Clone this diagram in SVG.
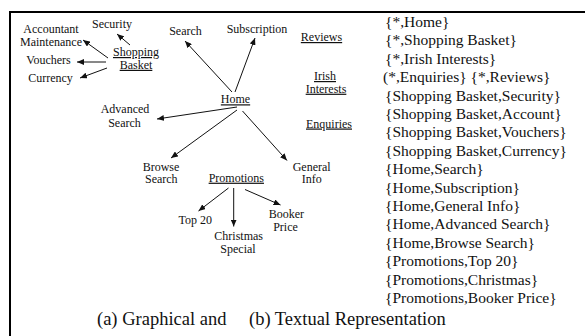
<svg xmlns="http://www.w3.org/2000/svg" width="585" height="336" viewBox="0 0 585 336">
<defs>
<style>
.n text{font-family:"Liberation Serif","Times New Roman",serif;font-size:12px;fill:#111;text-anchor:middle}
.n text.u{text-decoration:underline}
.lst text{font-family:"Liberation Serif","Times New Roman",serif;font-size:15.5px;fill:#111}
.cap{font-family:"Liberation Serif","Times New Roman",serif;font-size:18.5px;fill:#111}
#connectors line{stroke:#111;stroke-width:1;marker-end:url(#ah)}
.frame{stroke:#000;stroke-width:2;fill:none}
</style>
<marker id="ah" markerUnits="userSpaceOnUse" markerWidth="8" markerHeight="6" refX="7" refY="3" orient="auto">
<path d="M0,0 L7,3 L0,6 z" fill="#111"/>
</marker>
</defs>
<rect width="585" height="336" fill="#fff"/>
<path class="frame" d="M10,336 V12 H585"/>

<g id="connectors">
<line x1="130" y1="45" x2="117" y2="34"/>
<line x1="108" y1="58" x2="83" y2="40"/>
<line x1="106" y1="62" x2="77" y2="62"/>
<line x1="107" y1="68" x2="80" y2="78"/>
<line x1="232" y1="92" x2="185" y2="41"/>
<line x1="235" y1="92" x2="255" y2="38"/>
<line x1="237" y1="107" x2="157" y2="119"/>
<line x1="237" y1="110" x2="171" y2="158"/>
<line x1="242.5" y1="111" x2="287" y2="160.5"/>
<line x1="228.5" y1="188" x2="198.5" y2="211"/>
<line x1="233.7" y1="188" x2="233.7" y2="226.5"/>
<line x1="245" y1="189.5" x2="280.5" y2="205"/>
</g>

<g id="node-account" class="n"><text x="51" y="33">Accountant</text><text x="51" y="45.7">Maintenance</text></g>
<g id="node-security" class="n"><text x="112" y="28">Security</text></g>
<g id="node-shopping-basket" class="n"><text class="u" x="136" y="56">Shopping</text><text class="u" x="136" y="68.8">Basket</text></g>
<g id="node-vouchers" class="n"><text x="48.5" y="63.5">Vouchers</text></g>
<g id="node-currency" class="n"><text x="50.5" y="81.7">Currency</text></g>
<g id="node-search" class="n"><text x="185.5" y="35">Search</text></g>
<g id="node-subscription" class="n"><text x="257" y="32.5">Subscription</text></g>
<g id="node-reviews" class="n"><text class="u" x="321.5" y="41">Reviews</text></g>
<g id="node-irish" class="n"><text class="u" x="325" y="80">Irish</text><text class="u" x="326" y="92.7">Interests</text></g>
<g id="node-home" class="n"><text class="u" x="235.5" y="103.3">Home</text></g>
<g id="node-enquiries" class="n"><text class="u" x="329" y="127.5">Enquiries</text></g>
<g id="node-advanced" class="n"><text x="125" y="113.3">Advanced</text><text x="124.5" y="126.7">Search</text></g>
<g id="node-browse" class="n"><text x="161" y="170.7">Browse</text><text x="161.3" y="183.3">Search</text></g>
<g id="node-promotions" class="n"><text class="u" x="236.3" y="181.7">Promotions</text></g>
<g id="node-general" class="n"><text x="311.7" y="170.7">General</text><text x="311.7" y="183.3">Info</text></g>
<g id="node-top20" class="n"><text x="195.3" y="224">Top 20</text></g>
<g id="node-christmas" class="n"><text x="238.7" y="240">Christmas</text><text x="238" y="252.7">Special</text></g>
<g id="node-booker" class="n"><text x="286.3" y="218.3">Booker</text><text x="285.5" y="231">Price</text></g>

<g id="textual" class="lst">
<text x="385" y="27">{*,Home}</text>
<text x="385" y="45.4">{*,Shopping Basket}</text>
<text x="385" y="63.8">{*,Irish Interests}</text>
<text x="383" y="82.2">(*,Enquiries} {*,Reviews}</text>
<text x="385" y="100.6">{Shopping Basket,Security}</text>
<text x="385" y="119">{Shopping Basket,Account}</text>
<text x="385" y="137.4">{Shopping Basket,Vouchers}</text>
<text x="385" y="155.8">{Shopping Basket,Currency}</text>
<text x="385" y="174.2">{Home,Search}</text>
<text x="385" y="192.6">{Home,Subscription}</text>
<text x="385" y="211">{Home,General Info}</text>
<text x="385" y="229.4">{Home,Advanced Search}</text>
<text x="385" y="247.8">{Home,Browse Search}</text>
<text x="385" y="266.2">{Promotions,Top 20}</text>
<text x="385" y="284.6">{Promotions,Christmas}</text>
<text x="385" y="303">{Promotions,Booker Price}</text>
</g>

<g id="caption">
<text class="cap" x="97" y="325">(a) Graphical and</text>
<text class="cap" x="249" y="325">(b) Textual Representation</text>
</g>
</svg>
